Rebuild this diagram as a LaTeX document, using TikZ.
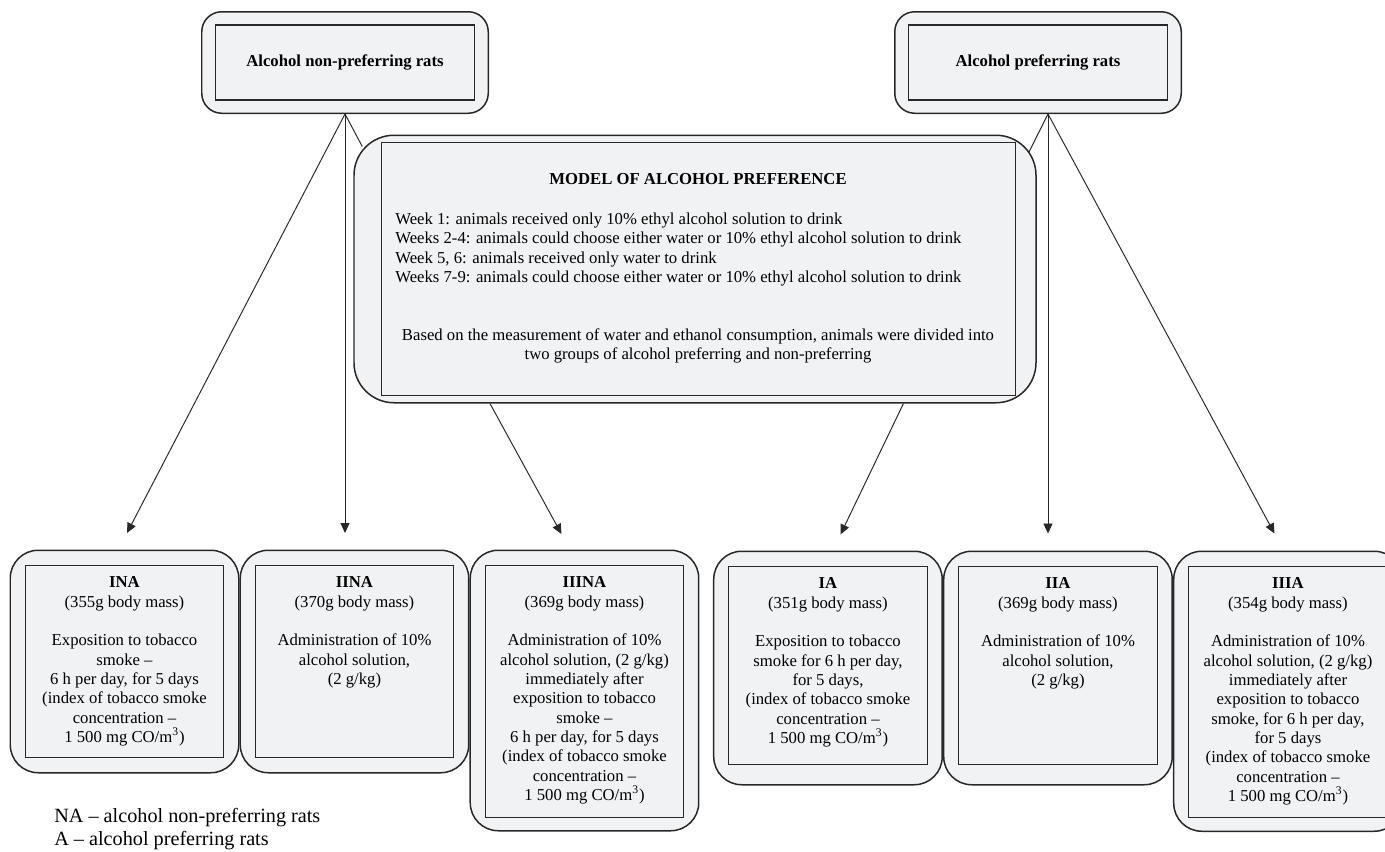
\documentclass[tikz,border=0pt]{standalone}
\usepackage{fontspec}
\setmainfont{Liberation Serif}
\usetikzlibrary{positioning, arrows.meta, calc}
\definecolor{boxfill}{RGB}{241,242,244}
\definecolor{boxline}{RGB}{40,40,40}

\begin{document}
\begin{tikzpicture}[font=\fontsize{9.5}{11}\selectfont,>={Triangle[length=2mm,width=1.8mm]},
  tb/.style={draw=boxline,line width=0.85pt,fill=boxfill,rounded corners=0.4cm,minimum width=5.73cm,minimum height=2.03cm},
  ti/.style={draw=boxline,line width=0.75pt,fill=boxfill,minimum width=5.19cm,minimum height=1.5cm,font=\fontsize{9.5}{11}\selectfont\bfseries},
  ob/.style={draw=boxline,line width=0.85pt,fill=boxfill,rounded corners=0.56cm,minimum width=4.57cm,inner sep=0pt,anchor=north west},
  ib/.style={draw=boxline,line width=0.75pt,fill=boxfill,minimum width=3.97cm,inner sep=0pt,anchor=north},
  tx/.style={align=center,anchor=north,inner sep=0pt},
  ar/.style={->,draw=boxline,line width=0.55pt}]
  \useasboundingbox (0,0) rectangle (27.7,-17.02);
  \fill[white] (0,0) rectangle (27.7,-17.02);
  \clip (0,0) rectangle (27.7,-17.02);

  \node[tb] (nap) at (6.9,-1.25) {};
  \node[ti] (nap-in) at (nap) {Alcohol non-preferring rats};
  \node[tb] (ap) at (20.76,-1.25) {};
  \node[ti] (ap-in) at (ap) {Alcohol preferring rats};

  \node[draw=boxline,line width=0.85pt,fill=boxfill,rounded corners=0.8cm,minimum width=13.64cm,minimum height=5.35cm] (model) at (13.9,-5.38) {};
  \node[draw=boxline,line width=0.75pt,fill=boxfill,minimum width=12.67cm,minimum height=5.05cm] (model-in) at ($(model)+(0.07,0)$) {};
  \node[anchor=north,inner sep=0pt,font=\fontsize{9.5}{11}\selectfont\bfseries] (model-t) at (13.96,-3.47) {MODEL OF ALCOHOL PREFERENCE};
  \node[align=left,anchor=north west,inner sep=0pt] (weeks) at (7.9,-4.25) {Week 1: animals received only 10\% ethyl alcohol solution to drink\\
    Weeks 2-4: animals could choose either water or 10\% ethyl alcohol solution to drink\\
    Week 5, 6: animals received only water to drink\\
    Weeks 7-9: animals could choose either water or 10\% ethyl alcohol solution to drink};
  \node[tx] (based) at (13.96,-6.57) {Based on the measurement of water and ethanol consumption, animals were divided into\\two groups of alcohol preferring and non-preferring};

  \node[ob,minimum height=4.45cm] (ina) at (0.19,-10.99) {};
  \node[ob,minimum height=4.45cm] (iina) at (ina.north east) {};
  \node[ob,minimum height=5.61cm] (iiina) at (iina.north east) {};
  \node[ob,minimum height=4.67cm] (ia) at ($(iiina.north east)+(0.27,-0.02)$) {};
  \node[ob,minimum height=4.67cm] (iia) at (ia.north east) {};
  \node[ob,minimum height=5.6cm] (iiia) at (iia.north east) {};

  \node[ib,minimum height=3.85cm] (ina-in) at ($(ina.north)+(0,-0.3)$) {};
  \node[ib,minimum height=3.85cm] (iina-in) at ($(iina.north)+(0,-0.3)$) {};
  \node[ib,minimum height=5.04cm] (iiina-in) at ($(iiina.north)+(0,-0.3)$) {};
  \node[ib,minimum height=3.97cm] (ia-in) at ($(ia.north)+(0,-0.3)$) {};
  \node[ib,minimum height=3.97cm] (iia-in) at ($(iia.north)+(0,-0.3)$) {};
  \node[ib,minimum height=5.02cm] (iiia-in) at ($(iiia.north)+(0,-0.3)$) {};

  \node[tx] (ina-t) at ($(ina-in.north)+(0,-0.24)$) {\textbf{INA}\\(355g body mass)\\[11pt]Exposition to tobacco\\smoke –\\6 h per day, for 5 days\\(index of tobacco smoke\\concentration –\\1 500 mg CO/m\textsuperscript{3})};
  \node[tx] (iina-t) at ($(iina-in.north)+(0,-0.24)$) {\textbf{IINA}\\(370g body mass)\\[11pt]Administration of 10\%\\alcohol solution,\\(2 g/kg)};
  \node[tx] (iiina-t) at ($(iiina-in.north)+(0,-0.24)$) {\textbf{IIINA}\\(369g body mass)\\[11pt]Administration of 10\%\\alcohol solution, (2 g/kg)\\immediately after\\exposition to tobacco\\smoke –\\6 h per day, for 5 days\\(index of tobacco smoke\\concentration –\\1 500 mg CO/m\textsuperscript{3})};
  \node[tx] (ia-t) at ($(ia-in.north)+(0,-0.24)$) {\textbf{IA}\\(351g body mass)\\[11pt]Exposition to tobacco\\smoke for 6 h per day,\\for 5 days,\\(index of tobacco smoke\\concentration –\\1 500 mg CO/m\textsuperscript{3})};
  \node[tx] (iia-t) at ($(iia-in.north)+(0,-0.24)$) {\textbf{IIA}\\(369g body mass)\\[11pt]Administration of 10\%\\alcohol solution,\\(2 g/kg)};
  \node[tx] (iiia-t) at ($(iiia-in.north)+(0,-0.24)$) {\textbf{IIIA}\\(354g body mass)\\[11pt]Administration of 10\%\\alcohol solution, (2 g/kg)\\immediately after\\exposition to tobacco\\smoke, for 6 h per day,\\for 5 days\\(index of tobacco smoke\\concentration –\\1 500 mg CO/m\textsuperscript{3})};

  \coordinate (nap-o) at (nap.south);
  \coordinate (ap-o) at ($(ap.south)+(0.2,0)$);
  \coordinate (model-l) at ($(model.north west)+(0.18,-0.24)$);
  \coordinate (model-r) at ($(model.north east)+(-0.16,-0.36)$);
  \coordinate (model-bl) at ($(model.south west)!0.2!(model.south east)$);
  \coordinate (model-br) at ($(model.south west)!0.805!(model.south east)$);
  \coordinate (ina-a) at ($(ina.north)+(0.05,0.33)$);
  \coordinate (iina-a) at ($(nap-o |- iina.north)+(0,0.33)$);
  \coordinate (iiina-a) at ($(iiina.north)+(-0.46,0.31)$);
  \coordinate (ia-a) at ($(ia.north)+(0.25,0.32)$);
  \coordinate (iia-a) at ($(ap-o |- iia.north)+(0,0.34)$);
  \coordinate (iiia-a) at ($(iiia.north)+(-0.27,0.34)$);

  \draw[boxline,line width=0.55pt] (nap-o) -- (model-l);
  \draw[boxline,line width=0.55pt] (ap-o) -- (model-r);
  \draw[ar] (nap-o) -- (ina-a);
  \draw[ar] (nap-o) -- (iina-a);
  \draw[ar] (model-bl) -- (iiina-a);
  \draw[ar] (model-br) -- (ia-a);
  \draw[ar] (ap-o) -- (iia-a);
  \draw[ar] (ap-o) -- (iiia-a);

  \node[align=left,anchor=north west,inner sep=0pt,font=\fontsize{11.5}{13.3}\selectfont] (legend) at (1.08,-16.15) {NA – alcohol non-preferring rats\\A – alcohol preferring rats};
\end{tikzpicture}
\end{document}
